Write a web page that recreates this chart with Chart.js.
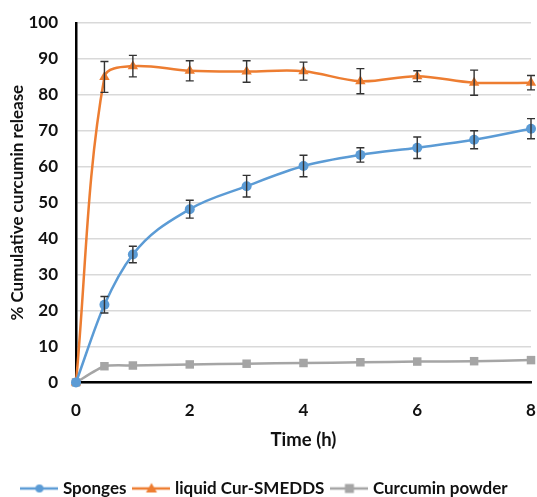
<!DOCTYPE html>
<html>
<head>
<meta charset="utf-8">
<script src="https://cdn.jsdelivr.net/npm/chart.js@4"></script>
<style>
  html, body { margin: 0; padding: 0; background: #fff; }
  #wrap { width: 537px; height: 497px; }
</style>
</head>
<body>
<div id="wrap"><canvas id="chart" width="537" height="497"></canvas></div>
<script>
// time points (h)
const times = [0, 0.5, 1, 2, 3, 4, 5, 6, 7, 8];

// % cumulative release
const sponges    = [0, 21.6, 35.6, 48.2, 54.6, 60.2, 63.3, 65.3, 67.5, 70.6];
const spongesErr = [0, 2.3, 2.3, 2.5, 3.0, 3.0, 2.0, 3.0, 2.5, 2.8];

const smedds    = [0, 85.0, 88.0, 86.7, 86.5, 86.6, 83.8, 85.2, 83.4, 83.4];
const smeddsErr = [0, 4.3, 3.0, 2.8, 3.0, 2.5, 3.5, 1.5, 3.5, 2.0];

const powder = [0, 4.5, 4.7, 5.0, 5.2, 5.4, 5.6, 5.8, 5.9, 6.2];

const xTicks = [0, 2, 4, 6, 8];
const yTicks = [0, 10, 20, 30, 40, 50, 60, 70, 80, 90, 100];

const BLUE = '#5b9bd5', ORANGE = '#ed7d31', GREY = '#a5a5a5';
const FONT = 'Lato, "Open Sans", sans-serif';

const toPts = (ys) => times.map((t, i) => ({ x: t, y: ys[i] }));

// legend sample: short line with the marker in the middle
function legendIcon(color, shape) {
  const c = document.createElement('canvas');
  c.width = 38; c.height = 14;
  const g = c.getContext('2d');
  g.strokeStyle = color; g.lineWidth = 2.5;
  g.beginPath(); g.moveTo(0, 7); g.lineTo(38, 7); g.stroke();
  g.fillStyle = color;
  g.beginPath();
  if (shape === 'circle') g.arc(19, 7, 4, 0, Math.PI * 2);
  else if (shape === 'triangle') { g.moveTo(19, 1.5); g.lineTo(24.5, 11); g.lineTo(13.5, 11); g.closePath(); }
  else g.rect(14.5, 2.5, 9, 9);
  g.fill();
  return c;
}

// draws vertical error bars with caps
const errorBars = {
  id: 'errorBars',
  afterDatasetsDraw(chart) {
    const ctx = chart.ctx;
    const yScale = chart.scales.y;
    chart.data.datasets.forEach((ds, di) => {
      if (!ds.errors) return;
      const meta = chart.getDatasetMeta(di);
      ctx.save();
      ctx.strokeStyle = '#333';
      ctx.lineWidth = 1.4;
      meta.data.forEach((pt, i) => {
        const e = ds.errors[i];
        if (!e) return;
        const v = ds.data[i].y;
        const top = yScale.getPixelForValue(v + e);
        const bot = yScale.getPixelForValue(v - e);
        ctx.beginPath();
        ctx.moveTo(pt.x, top); ctx.lineTo(pt.x, bot);
        ctx.moveTo(pt.x - 4, top); ctx.lineTo(pt.x + 4, top);
        ctx.moveTo(pt.x - 4, bot); ctx.lineTo(pt.x + 4, bot);
        ctx.stroke();
      });
      ctx.restore();
    });
  }
};

new Chart(document.getElementById('chart'), {
  type: 'line',
  data: {
    datasets: [
      {
        label: 'Sponges', data: toPts(sponges), errors: spongesErr,
        borderColor: BLUE, backgroundColor: BLUE, borderWidth: 2.5,
        pointStyle: 'circle', pointRadius: 5, pointBorderWidth: 0, clip: false,
        tension: 0.4, cubicInterpolationMode: 'monotone',
        legendIcon: legendIcon(BLUE, 'circle')
      },
      {
        label: 'liquid Cur-SMEDDS', data: toPts(smedds), errors: smeddsErr,
        borderColor: ORANGE, backgroundColor: ORANGE, borderWidth: 2.5,
        pointStyle: 'triangle', pointRadius: 6, pointBorderWidth: 0, clip: false, tension: 0.35,
        legendIcon: legendIcon(ORANGE, 'triangle')
      },
      {
        label: 'Curcumin powder', data: toPts(powder),
        borderColor: GREY, backgroundColor: GREY, borderWidth: 2.5,
        pointStyle: 'rect', pointRadius: 6, pointBorderWidth: 0, clip: false, tension: 0.2,
        legendIcon: legendIcon(GREY, 'rect')
      }
    ]
  },
  options: {
    responsive: false,
    animation: false,
    layout: { padding: { left: 0, right: 5, top: 23, bottom: -10 } },
    scales: {
      x: {
        type: 'linear', min: 0, max: 8,
        afterBuildTicks: (s) => { s.ticks = xTicks.map(v => ({ value: v })); },
        afterFit: (s) => { s.height = 87.6; s.paddingLeft = 0; s.paddingRight = 5; },
        grid: { display: false, drawTicks: false },
        border: { color: '#000', width: 2.5 },
        ticks: { color: '#111', padding: 18, font: { family: FONT, size: 17, weight: 'bold' } },
        title: { display: true, text: 'Time (h)', color: '#111', padding: { top: 4, bottom: 18.5 },
                 font: { family: FONT, size: 18.5, weight: 'bold' } }
      },
      y: {
        min: 0, max: 100,
        afterBuildTicks: (s) => { s.ticks = yTicks.map(v => ({ value: v })); },
        afterFit: (s) => { s.width = 76; s.paddingTop = 0; s.paddingBottom = 0; },
        grid: { color: '#d9d9d9', lineWidth: 1.5, drawTicks: false },
        border: { color: '#000', width: 2.5 },
        ticks: { color: '#111', padding: 18, font: { family: FONT, size: 17, weight: 'bold' } },
        title: { display: true, text: '% Cumulative curcumin release', color: '#111', padding: { top: 7, bottom: 4 },
                 font: { family: FONT, size: 17, weight: 'bold' } }
      }
    },
    plugins: {
      legend: {
        position: 'bottom',
        labels: {
          usePointStyle: true, pointStyleWidth: 30, boxHeight: 14, padding: 10,
          color: '#111', font: { family: FONT, size: 17, weight: 'bold' },
          generateLabels: (chart) => chart.data.datasets.map((ds, i) => ({
            text: ds.label, pointStyle: ds.legendIcon, datasetIndex: i,
            fillStyle: ds.borderColor, strokeStyle: ds.borderColor, lineWidth: 0, fontColor: '#111'
          }))
        }
      },
      tooltip: { enabled: false }
    }
  },
  plugins: [errorBars]
});
</script>
</body>
</html>
